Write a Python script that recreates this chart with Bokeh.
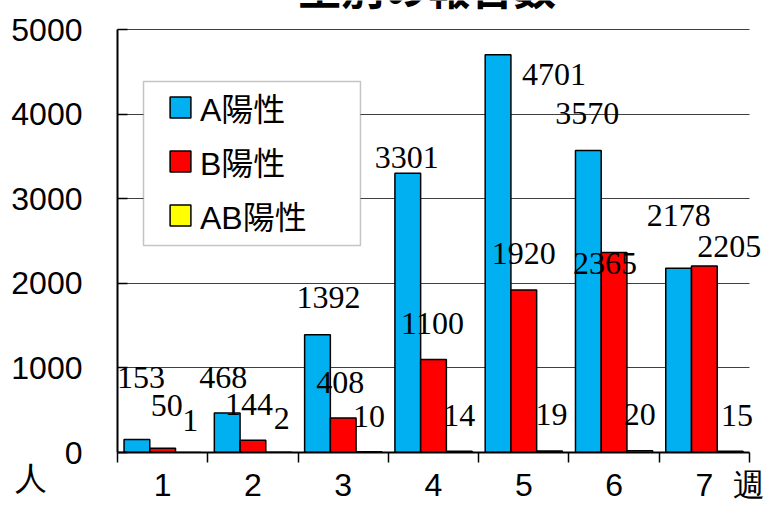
from bokeh.plotting import figure
from bokeh.models import (ColumnDataSource, Range1d, FixedTicker, LabelSet, Label,
                          Legend, LegendItem, BoxAnnotation, Grid)
from bokeh.embed import file_html
from bokeh.resources import INLINE

weeks = ["1", "2", "3", "4", "5", "6", "7"]
a_pos = [153, 468, 1392, 3301, 4701, 3570, 2178]
b_pos = [50, 144, 408, 1100, 1920, 2365, 2205]
ab_pos = [1, 2, 10, 14, 19, 20, 15]
series_names = ["A陽性", "B陽性", "AB陽性"]
series_values = [a_pos, b_pos, ab_pos]
colors = ["#00B0F0", "#FF0000", "#FFFF00"]
y_ticks = [0, 1000, 2000, 3000, 4000, 5000]
title_text = "型別の報告数"
x_unit = "週"
y_unit = "人"

# label nudges in px (right +, up +), relative to bar top centre
label_dx = [[4, -4, 11, -1, 56, -1, 0],
            [4, -4, -3, -1, 0, -9, 25],
            [2, 3, 0, 0, 2, 0, 7]]
label_dy = [[62, 35, 37, 16, -20, 37, 53],
            [43, 36, 35, 36, 37, -11, 19],
            [32, 34, 35, 36, 36, 36, 36]]

NUM_FONT = "Liberation Sans"
JP_FONT = "Liberation Sans, Noto Sans CJK JP"
NBSP = "\u00a0"

px_per_unit_y = 423 / 5000.0
y_top = 5000 + 29 / px_per_unit_y          # frame reaches the top edge (title is cut there)
x_end = 7.5 + 19 / 90.29                   # frame reaches the right edge
p = figure(width=768, height=506, x_range=Range1d(0.5, x_end), y_range=Range1d(0, y_top),
           output_backend="svg", toolbar_location=None,
           min_border_left=117, min_border_right=0, min_border_top=0, min_border_bottom=54)
p.outline_line_color = None
p.background_fill_color = "white"
p.border_fill_color = "white"

bar_w = 0.285
offsets = [-bar_w, 0.0, bar_w]
renderers = []
for s, vals in enumerate(series_values):
    src = ColumnDataSource(dict(x=[i + 1 + offsets[s] for i in range(len(weeks))], top=vals))
    r = p.vbar(x="x", top="top", width=bar_w, source=src, fill_color=colors[s],
               line_color="black", line_width=1.5)
    renderers.append(r)

# data labels
lx, ly, lt, ldx, ldy = [], [], [], [], []
for s, vals in enumerate(series_values):
    for i, v in enumerate(vals):
        lx.append(i + 1 + offsets[s]); ly.append(v); lt.append(str(v))
        ldx.append(label_dx[s][i]); ldy.append(label_dy[s][i])
lsrc = ColumnDataSource(dict(x=lx, y=ly, t=lt, dx=ldx, dy=ldy))
p.add_layout(LabelSet(x="x", y="y", text="t", x_offset="dx", y_offset="dy", source=lsrc,
                      text_align="center", text_baseline="middle",
                      text_font_size="32px", text_font=NUM_FONT, text_color="black"))

# y axis (the unit 人 sits under the 0 label)
p.yaxis.bounds = (0, 5000)
p.yaxis.ticker = FixedTicker(ticks=y_ticks)
p.yaxis.major_label_overrides = {0: NBSP + "\n0\n" + y_unit + NBSP * 4}
p.yaxis.major_label_text_line_height = 0.72
p.yaxis.major_label_text_font = NUM_FONT
p.yaxis.major_label_text_font_size = "32px"
p.yaxis.major_label_text_color = "black"
p.yaxis.major_tick_in = 10
p.yaxis.major_tick_out = 0
p.yaxis.major_tick_line_width = 1.5
p.yaxis.major_tick_line_color = "black"
p.yaxis.minor_tick_line_color = None
p.yaxis.axis_line_width = 2
p.yaxis.axis_line_color = "black"
p.yaxis.major_label_standoff = 35

p.ygrid.ticker = FixedTicker(ticks=y_ticks)
p.ygrid.grid_line_color = "#404040"
p.ygrid.grid_line_width = 1
if "cross_bounds" in Grid.properties():
    p.ygrid.cross_bounds = (0.5, 7.5)
p.xgrid.visible = False

# x axis: labels at category centres, ticks at category boundaries, unit at the end
unit_pos = 7.489
p.xaxis.bounds = (0.5, 7.5)
p.xaxis.ticker = FixedTicker(ticks=[i + 1 for i in range(len(weeks))] + [unit_pos],
                             minor_ticks=[i + 0.5 for i in range(len(weeks) + 1)])
overrides = {i + 1: w for i, w in enumerate(weeks)}
overrides[unit_pos] = x_unit
p.xaxis.major_label_overrides = overrides
p.xaxis.major_label_text_font = NUM_FONT
p.xaxis.major_label_text_font_size = "32px"
p.xaxis.major_label_text_color = "black"
p.xaxis.major_label_standoff = 4
p.xaxis.major_tick_line_color = None
p.xaxis.major_tick_out = 0
p.xaxis.major_tick_in = 0
p.xaxis.minor_tick_out = 10
p.xaxis.minor_tick_in = 0
p.xaxis.minor_tick_line_color = "black"
p.xaxis.minor_tick_line_width = 1.5
p.xaxis.axis_line_width = 2
p.xaxis.axis_line_color = "black"

# title, cut by the top edge as in the reference
p.add_layout(Label(x=3.93, y=5146, text=title_text, text_align="center", text_baseline="bottom",
                   text_font_size="43px", text_font="Noto Sans CJK JP", text_font_style="bold",
                   text_color="black"))

# legend box + legend
p.add_layout(BoxAnnotation(left=0.788, right=3.191, bottom=2447, top=4385,
                           fill_color="white", fill_alpha=1.0,
                           line_color="#404040", line_width=1.5))
items = [LegendItem(label=n, renderers=[r]) for n, r in zip(series_names, renderers)]
legend = Legend(items=items, location=(50, 214), padding=0, spacing=8, margin=0,
                glyph_width=26, glyph_height=26, label_standoff=7,
                label_text_font_size="32px", label_text_font=JP_FONT,
                label_text_color="black",
                border_line_color=None, background_fill_alpha=0)
p.add_layout(legend)

open("out.html", "w").write(file_html(p, INLINE))
